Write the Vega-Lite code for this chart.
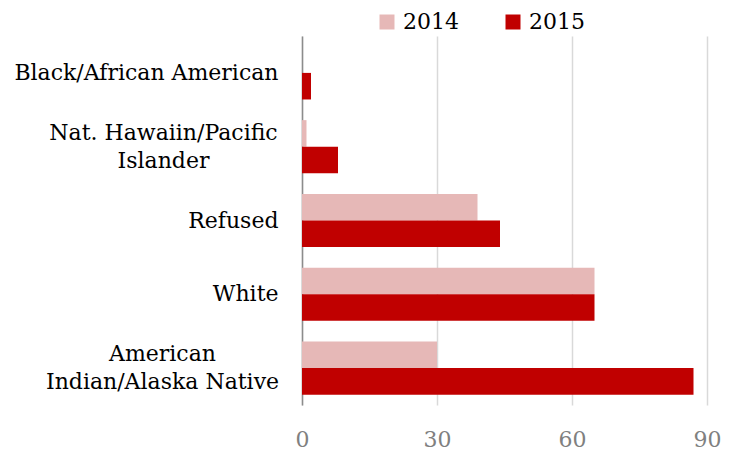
{
  "$schema": "https://vega.github.io/schema/vega-lite/v6.json",
  "width": 405,
  "height": 369,
  "autosize": {"type": "none"},
  "padding": {"left": 302, "top": 36, "right": 24, "bottom": 48},
  "background": "white",
  "config": {
    "view": {"stroke": null},
    "font": "DejaVu Serif"
  },
  "data": {
    "values": [
      {"race": "Black/African American", "year": "2014", "value": 0},
      {"race": "Black/African American", "year": "2015", "value": 2},
      {"race": "Nat. Hawaiin/Pacific Islander", "year": "2014", "value": 1},
      {"race": "Nat. Hawaiin/Pacific Islander", "year": "2015", "value": 8},
      {"race": "Refused", "year": "2014", "value": 39},
      {"race": "Refused", "year": "2015", "value": 44},
      {"race": "White", "year": "2014", "value": 65},
      {"race": "White", "year": "2015", "value": 65},
      {"race": "American Indian/Alaska Native", "year": "2014", "value": 30},
      {"race": "American Indian/Alaska Native", "year": "2015", "value": 87}
    ]
  },
  "mark": {"type": "bar"},
  "encoding": {
    "y": {
      "field": "race",
      "type": "nominal",
      "sort": ["Black/African American", "Nat. Hawaiin/Pacific Islander", "Refused", "White", "American Indian/Alaska Native"],
      "scale": {"paddingInner": 0.28, "paddingOuter": 0.14},
      "axis": {
        "title": null,
        "domain": true,
        "domainColor": "#8c8c8c",
        "domainWidth": 1.5,
        "ticks": false,
        "grid": false,
        "labelFont": "DejaVu Serif",
        "labelFontSize": 22,
        "labelColor": "#000000",
        "labelAlign": {"condition": {"test": "datum.value == 'Nat. Hawaiin/Pacific Islander' || datum.value == 'American Indian/Alaska Native'", "value": "center"}, "value": "right"},
        "labelPadding": {"condition": [{"test": "datum.value == 'Nat. Hawaiin/Pacific Islander'", "value": 139}, {"test": "datum.value == 'American Indian/Alaska Native'", "value": 140}], "value": 24},
        "labelOffset": {"condition": {"test": "datum.value == 'Nat. Hawaiin/Pacific Islander' || datum.value == 'American Indian/Alaska Native'", "value": -14}, "value": 0},
        "labelLineHeight": 28,
        "labelLimit": 400,
        "labelExpr": "datum.value == 'Nat. Hawaiin/Pacific Islander' ? ['Nat. Hawaiin/Pacific', 'Islander'] : datum.value == 'American Indian/Alaska Native' ? ['American', 'Indian/Alaska Native'] : datum.value"
      }
    },
    "yOffset": {
      "field": "year",
      "type": "nominal",
      "scale": {"paddingInner": 0, "paddingOuter": 0}
    },
    "x": {
      "field": "value",
      "type": "quantitative",
      "scale": {"domain": [0, 90], "nice": false},
      "axis": {
        "title": null,
        "values": [0, 30, 60, 90],
        "grid": true,
        "gridColor": "#d9d9d9",
        "gridWidth": 1.5,
        "domain": false,
        "ticks": false,
        "labelFlush": false,
        "labelFont": "DejaVu Serif",
        "labelFontSize": 22,
        "labelColor": "#808080",
        "labelPadding": 24
      }
    },
    "color": {
      "field": "year",
      "type": "nominal",
      "scale": {"domain": ["2014", "2015"], "range": ["#E6B8B7", "#C00000"]},
      "legend": {
        "title": null,
        "orient": "none",
        "legendX": 74,
        "legendY": -25,
        "direction": "horizontal",
        "symbolType": "square",
        "symbolSize": 225,
        "symbolStrokeWidth": 0,
        "labelFont": "DejaVu Serif",
        "labelFontSize": 22,
        "labelColor": "#000000",
        "labelOffset": 5,
        "columnPadding": 43,
        "padding": 0
      }
    }
  }
}
